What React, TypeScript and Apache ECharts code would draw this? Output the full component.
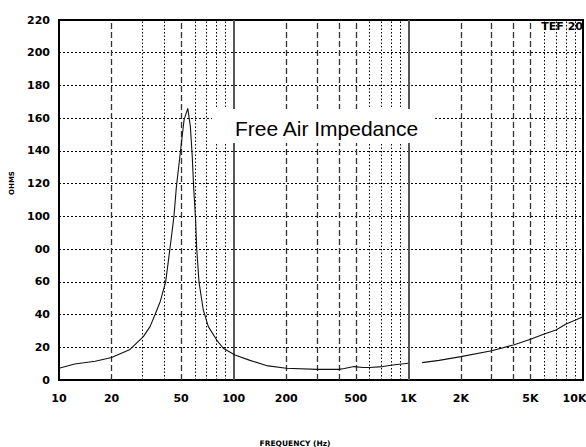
import React, { useEffect, useRef } from "react";
import * as echarts from "echarts";

const freqHz = [
  10, 12.3, 16.1, 20, 25.5, 30.4, 33.2, 35.4, 38, 40.8, 43.2, 45.5, 47, 49.5, 52, 54.6,
  56.5, 57.9, 59, 60.6, 61.4, 63.3, 67, 71.6, 80, 87.2, 101.7, 124, 154, 200, 300, 400,
  430, 490, 550, 600, 715, 815, 1000, 1100, 1200, 1500, 2000, 3000, 4000, 5000, 6000,
  7000, 8000, 9000, 10000,
];
const impedanceOhms = [
  7.2, 9.8, 11.5, 13.8, 18.7, 26.5, 32.6, 39.7, 48, 60, 80.5, 100, 118, 139, 159, 166,
  155, 137, 118, 97, 80.7, 60, 42.8, 32.6, 24.4, 19.4, 15.3, 12, 8.8, 7.2, 6.5, 6.5,
  7, 8.2, 7.6, 7.6, 8.2, 9.2, 10.2, null, 10.6, 12, 14.3, 17.9, 21.4, 24.9, 28.1,
  30.6, 34.2, 36.5, 38.7,
];

const xTickValues = [10, 20, 50, 100, 200, 500, 1000, 2000, 5000, 10000];
const xTickLabels = ["10", "20", "50", "100", "200", "500", "1K", "2K", "5K", "10K"];
const yTickLabels = ["0", "20", "40", "60", "00", "100", "120", "140", "160", "180", "200", "220"];

const solidFreqs = [100, 1000];
const dashedFreqs = [20, 50, 200, 300, 400, 500, 2000, 3000, 4000, 5000];
const dottedFreqs = [30, 40, 60, 70, 80, 90, 600, 700, 800, 900, 6000, 7000, 8000, 9000];

export default function App() {
  const ref = useRef<HTMLDivElement>(null);
  useEffect(() => {
    if (!ref.current) return;
    const chart = echarts.init(ref.current, null, { renderer: "svg" });
    const labelFont = { fontFamily: "DejaVu Sans", fontWeight: "bold" as const, fontSize: 11, color: "#000" };
    const vLines = [
      ...solidFreqs.map((f) => ({ xAxis: f, lineStyle: { type: "solid", color: "#555", width: 2 } })),
      ...dashedFreqs.map((f) => ({ xAxis: f, lineStyle: { type: [6, 3], color: "#333", width: 1.3 } })),
      ...dottedFreqs.map((f) => ({ xAxis: f, lineStyle: { type: [1.5, 2], color: "#000", width: 1 } })),
    ];
    chart.setOption({
      animation: false,
      backgroundColor: "#fff",
      grid: {
        left: 59, right: 3, top: 20, bottom: 67,
        containLabel: false, outerBoundsMode: "none",
        show: true, borderColor: "#000", borderWidth: 2, backgroundColor: "transparent",
      },
      xAxis: {
        type: "log",
        logBase: 10,
        min: 10,
        max: 10000,
        name: "FREQUENCY (Hz)",
        nameLocation: "middle",
        nameGap: 59,
        nameTextStyle: { fontFamily: "DejaVu Sans", fontWeight: "bold", fontSize: 7.5, color: "#000", padding: [0, 52, 0, 0] },
        axisLine: { show: true, lineStyle: { color: "#000", width: 2 } },
        axisTick: { show: false },
        splitLine: { show: false },
        minorSplitLine: { show: false },
        axisLabel: {
          ...labelFont,
          margin: 13,
          hideOverlap: false,
          customValues: xTickValues,
          formatter: (v: number) => {
            const i = xTickValues.findIndex((t) => Math.abs(t - v) < 1e-6 * t);
            if (i < 0) return "";
            return i === xTickValues.length - 1 ? `{e|${xTickLabels[i]}}` : `{n|${xTickLabels[i]}}`;
          },
          rich: {
            n: { ...labelFont },
            e: { ...labelFont, padding: [0, 17, 0, 0] },
          },
        },
      },
      yAxis: {
        type: "value",
        min: 0,
        max: 220,
        interval: 20,
        name: "OHMS",
        nameLocation: "middle",
        nameRotate: 90,
        nameGap: 44,
        nameTextStyle: { fontFamily: "DejaVu Sans", fontWeight: "bold", fontSize: 7, color: "#000", padding: [0, 0, 0, 34] },
        axisLine: { show: true, lineStyle: { color: "#000", width: 2 } },
        axisTick: { show: false },
        splitLine: { show: true, lineStyle: { type: [2, 2], color: "#000", width: 1 } },
        axisLabel: {
          ...labelFont,
          margin: 9,
          formatter: (v: number) => yTickLabels[Math.round(v / 20)] ?? "",
        },
      },
      series: [
        {
          type: "line",
          data: freqHz.map((f, i) => [f, impedanceOhms[i] === null ? "-" : impedanceOhms[i]]),
          showSymbol: false,
          symbol: "none",
          connectNulls: false,
          lineStyle: { color: "#111", width: 1.1 },
          z: 5,
          markLine: {
            silent: true,
            symbol: "none",
            label: { show: false },
            data: vLines,
          },
        },
      ],
      graphic: [
        { type: "rect", z: 100, shape: { x: 212, y: 109, width: 221, height: 34 }, style: { fill: "#fff" } },
        {
          type: "text",
          z: 101,
          x: 326.5,
          y: 128,
          style: { text: "Free Air Impedance", fontFamily: "Liberation Sans", fontSize: 21, fill: "#000", align: "center", verticalAlign: "middle" },
        },
        {
          type: "text",
          z: 101,
          x: 583,
          y: 21,
          style: { text: "TEF 20", fontFamily: "DejaVu Sans", fontWeight: "bold", fontSize: 11, fill: "#000", align: "right", verticalAlign: "top" },
        },
      ],
    });
    return () => chart.dispose();
  }, []);
  return <div ref={ref} style={{ position: "fixed", left: 0, top: 0, width: 586, height: 447 }} />;
}
